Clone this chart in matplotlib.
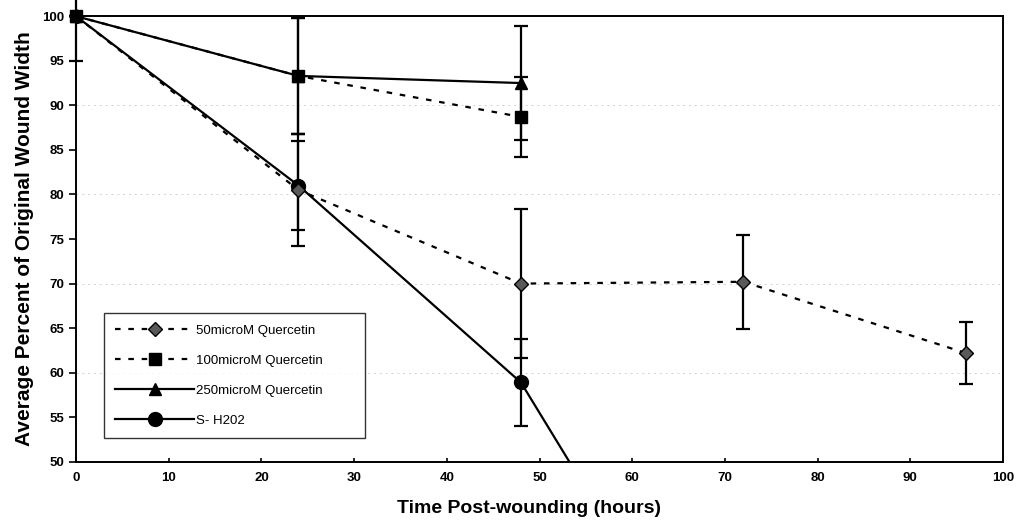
import numpy as np
import matplotlib.pyplot as plt
from matplotlib.lines import Line2D

plt.rcParams['font.family'] = ['Liberation Sans', 'DejaVu Sans']

# time points (hours)
t_50 = [0, 24, 48, 72, 96]
t_100 = [0, 24, 48]
t_250 = [0, 24, 48]
t_h2o2 = [0, 24, 48, 72]

# average percent of original wound width
y_50 = [100, 80.5, 70.0, 70.2, 62.2]
y_100 = [100, 93.3, 88.7]
y_250 = [100, 93.3, 92.5]
y_h2o2 = [100, 81.0, 58.9, 18.0]

# error bars
e_50 = [0, 6.3, 8.4, 5.3, 3.5]
e_100 = [0, 6.5, 4.5]
e_250 = [5.0, 6.5, 6.4]
e_h2o2 = [0, 5.0, 4.9, 0]

labels = ['50microM Quercetin', '100microM Quercetin', '250microM Quercetin', 'S- H202']

fig = plt.figure(figsize=(10.19, 5.23), dpi=100)
ax = fig.add_axes([0.0746, 0.117, 0.9097, 0.852])

# faint gridlines
for g in [60, 70, 80, 90]:
    ax.axhline(g, color='0.82', lw=0.7, ls=(0, (2, 4)), zorder=0)

dash = (0, (2.5, 3.5))
err = dict(fmt='none', ecolor='black', elinewidth=1.6, capsize=5, capthick=1.6)

# H2O2 series: line is clipped at the axis, it runs off the bottom
ax.errorbar(t_h2o2, y_h2o2, yerr=e_h2o2, zorder=3, **err)
ax.plot(t_h2o2, y_h2o2, color='black', lw=1.6, marker='o', ms=10, zorder=3)

series = [
    (t_50, y_50, e_50, dash, 'D', 7, '0.35', 4),
    (t_250, y_250, e_250, '-', '^', 9, 'black', 4),
    (t_100, y_100, e_100, dash, 's', 9, 'black', 5),
]
for t, y, e, ls, mk, ms, fc, z in series:
    c = ax.errorbar(t, y, yerr=e, zorder=z, **err)
    for a in c.get_children():
        a.set_clip_on(False)
    ax.plot(t, y, color='black', lw=1.6, ls=ls, marker=mk, ms=ms,
            mfc=fc, mec='black', zorder=z, clip_on=False)

ax.set_xlim(0, 100)
ax.set_ylim(50, 100)
ax.set_xticks(np.arange(0, 101, 10))
ax.set_yticks(np.arange(50, 101, 5))
ax.tick_params(axis='both', labelsize=9.5, width=1.2)
ax.tick_params(axis='y', direction='out', length=5)
ax.tick_params(axis='x', direction='in', length=3, pad=7)
for lab in ax.get_xticklabels() + ax.get_yticklabels():
    lab.set_fontweight('bold')
for s in ax.spines.values():
    s.set_linewidth(1.4)

ax.set_xlabel('Time Post-wounding (hours)', fontsize=14, fontweight='bold')
ax.xaxis.set_label_coords(0.489, -0.085)
ax.set_ylabel('Average Percent of Original Wound Width', fontsize=15, fontweight='bold', labelpad=6)

handles = [
    Line2D([], [], color='black', lw=1.6, ls=dash, marker='D', ms=7, mfc='0.35', mec='black'),
    Line2D([], [], color='black', lw=1.6, ls=dash, marker='s', ms=9, mfc='black'),
    Line2D([], [], color='black', lw=1.6, ls='-', marker='^', ms=9, mfc='black'),
    Line2D([], [], color='black', lw=1.6, ls='-', marker='o', ms=10, mfc='black'),
]
leg = ax.legend(handles, labels, loc='lower left', bbox_to_anchor=(0.03, 0.053, 0.2816, 0.1),
                mode='expand', borderaxespad=0, fontsize=9.5, numpoints=1, handlelength=6.0,
                handletextpad=0.1, labelspacing=1.35, borderpad=0.85, frameon=True, fancybox=False)
leg.get_frame().set_edgecolor('black')
leg.get_frame().set_linewidth(1.0)

fig.savefig('out.png', dpi=100)
